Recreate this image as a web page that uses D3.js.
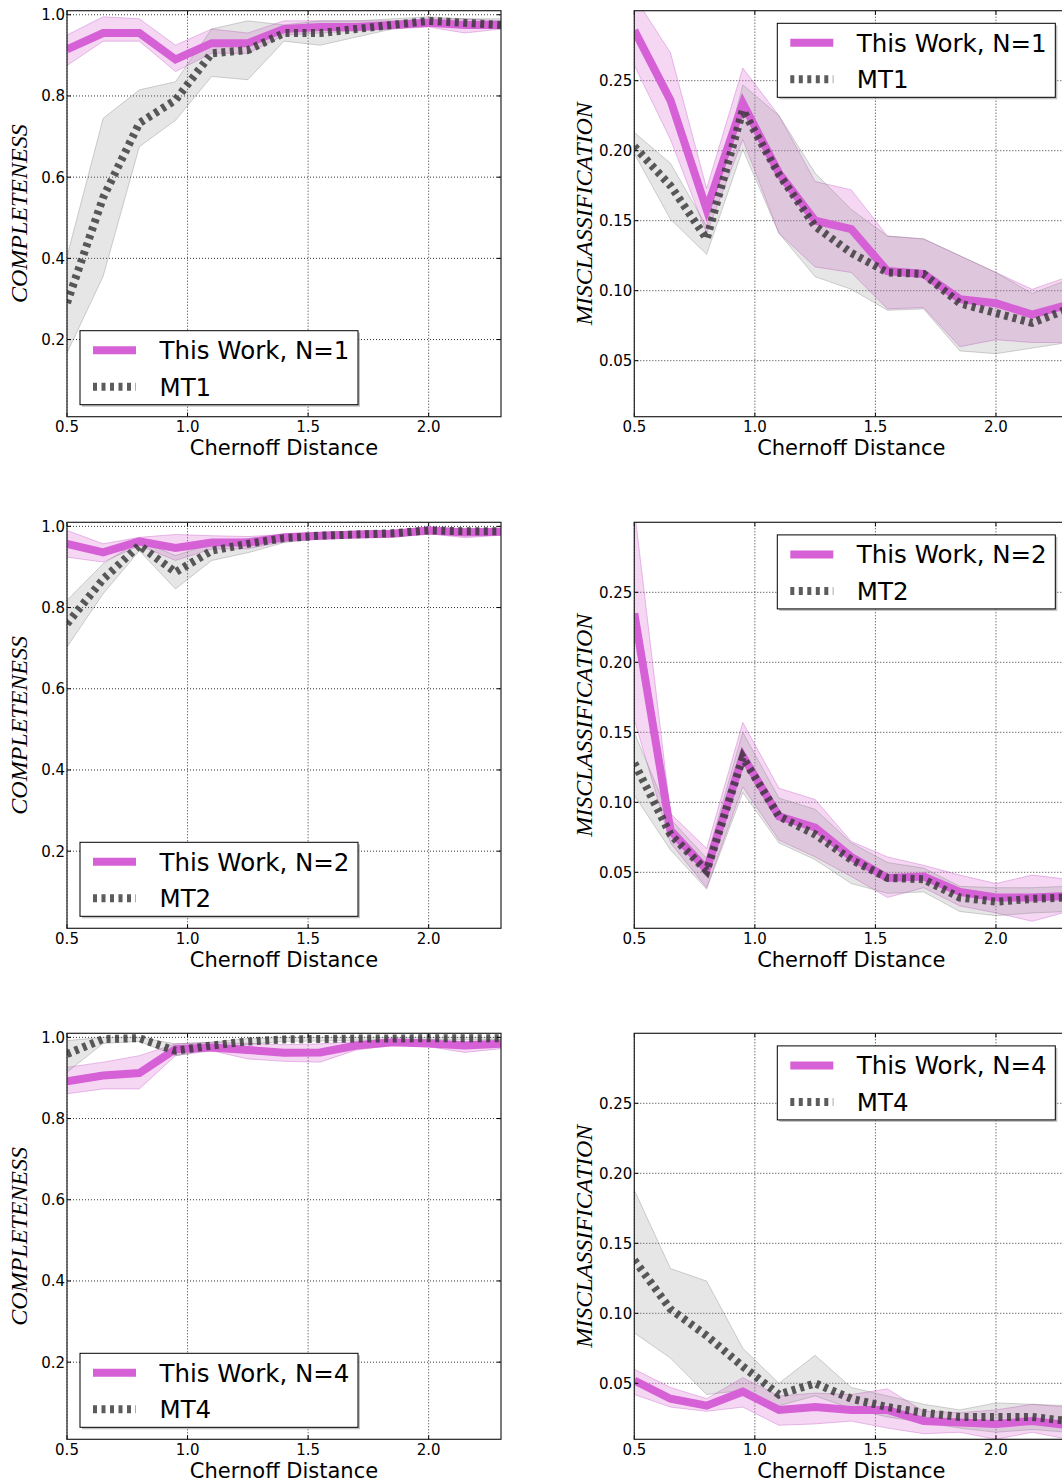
<!DOCTYPE html>
<meta charset="utf-8">
<style>
body { margin: 0; overflow: hidden; background: #fff; }
svg { font-family: "DejaVu Sans", sans-serif; }
.grid line { stroke: #000; stroke-width: 0.8; stroke-dasharray: 1,2; }
.tick-in line { stroke: #000; stroke-width: 1; }
.spine { fill: none; stroke: #222; stroke-width: 1.2; }
.ylab { font-family: "Liberation Serif", serif; font-style: italic; font-size: 24px; }
</style>
<body>
<script src="https://cdn.jsdelivr.net/npm/d3@7"></script>
<script>

// chernoff distance sample points
var xs = [0.5, 0.65, 0.8, 0.95, 1.1, 1.25, 1.4, 1.55, 1.7, 1.85, 2.0, 2.15, 2.3];

// completeness, N=1
var compTW1   = [0.915, 0.955, 0.955, 0.89, 0.93, 0.93, 0.965, 0.97, 0.97, 0.975, 0.98, 0.975, 0.975];
var compTW1Lo = [0.875, 0.935, 0.935, 0.86, 0.905, 0.905, 0.95, 0.955, 0.96, 0.965, 0.97, 0.955, 0.965];
var compTW1Hi = [0.95, 0.995, 0.99, 0.925, 0.965, 0.955, 0.985, 0.985, 0.985, 0.985, 0.99, 0.99, 0.985];
var compMT1   = [0.29, 0.55, 0.733, 0.79, 0.905, 0.913, 0.955, 0.955, 0.965, 0.975, 0.985, 0.98, 0.975];
var compMT1Lo = [0.167, 0.356, 0.675, 0.74, 0.848, 0.84, 0.935, 0.925, 0.945, 0.965, 0.975, 0.97, 0.965];
var compMT1Hi = [0.405, 0.745, 0.815, 0.835, 0.965, 0.985, 0.975, 0.985, 0.985, 0.99, 0.995, 0.99, 0.99];

// misclassification, N=1
var misTW1   = [0.286, 0.236, 0.158, 0.234, 0.184, 0.150, 0.144, 0.114, 0.112, 0.094, 0.091, 0.083, 0.09];
var misTW1Lo = [0.261, 0.208, 0.141, 0.208, 0.141, 0.117, 0.113, 0.087, 0.088, 0.06, 0.065, 0.063, 0.063];
var misTW1Hi = [0.31, 0.27, 0.173, 0.259, 0.225, 0.178, 0.172, 0.139, 0.137, 0.125, 0.113, 0.101, 0.11];
var misMT1   = [0.203, 0.175, 0.137, 0.229, 0.183, 0.146, 0.127, 0.113, 0.112, 0.091, 0.084, 0.077, 0.087];
var misMT1Lo = [0.198, 0.151, 0.126, 0.201, 0.141, 0.11, 0.101, 0.086, 0.087, 0.057, 0.055, 0.059, 0.063];
var misMT1Hi = [0.213, 0.191, 0.146, 0.247, 0.225, 0.184, 0.158, 0.139, 0.137, 0.125, 0.113, 0.098, 0.108];

// completeness, N=2
var compTW2   = [0.957, 0.936, 0.963, 0.947, 0.96, 0.96, 0.973, 0.977, 0.98, 0.982, 0.99, 0.985, 0.987];
var compTW2Lo = [0.924, 0.912, 0.953, 0.916, 0.944, 0.945, 0.962, 0.968, 0.975, 0.975, 0.982, 0.972, 0.978];
var compTW2Hi = [0.99, 0.957, 0.973, 0.98, 0.977, 0.975, 0.98, 0.985, 0.988, 0.99, 0.995, 0.995, 0.995];
var compMT2   = [0.76, 0.87, 0.953, 0.887, 0.94, 0.957, 0.971, 0.977, 0.98, 0.983, 0.99, 0.988, 0.988];
var compMT2Lo = [0.703, 0.834, 0.94, 0.846, 0.916, 0.935, 0.96, 0.97, 0.974, 0.977, 0.985, 0.98, 0.98];
var compMT2Hi = [0.818, 0.908, 0.965, 0.928, 0.957, 0.97, 0.98, 0.985, 0.987, 0.99, 0.997, 0.995, 0.995];

// misclassification, N=2
var misTW2   = [0.235, 0.08, 0.052, 0.133, 0.09, 0.082, 0.061, 0.046, 0.047, 0.036, 0.032, 0.032, 0.033];
var misTW2Lo = [0.159, 0.071, 0.039, 0.111, 0.073, 0.061, 0.047, 0.032, 0.039, 0.026, 0.021, 0.015, 0.022];
var misTW2Hi = [0.31, 0.092, 0.067, 0.157, 0.11, 0.102, 0.072, 0.061, 0.055, 0.048, 0.042, 0.048, 0.045];
var misMT2   = [0.128, 0.077, 0.051, 0.132, 0.09, 0.077, 0.059, 0.046, 0.045, 0.032, 0.029, 0.031, 0.032];
var misMT2Lo = [0.105, 0.066, 0.038, 0.107, 0.071, 0.059, 0.042, 0.035, 0.036, 0.022, 0.019, 0.021, 0.022];
var misMT2Hi = [0.15, 0.088, 0.06, 0.15, 0.103, 0.095, 0.071, 0.057, 0.053, 0.04, 0.039, 0.039, 0.04];

// completeness, N=4
var compTW4   = [0.892, 0.906, 0.912, 0.971, 0.975, 0.969, 0.962, 0.963, 0.98, 0.988, 0.985, 0.98, 0.984];
var compTW4Lo = [0.861, 0.873, 0.873, 0.955, 0.967, 0.947, 0.941, 0.939, 0.969, 0.98, 0.977, 0.963, 0.972];
var compTW4Hi = [0.926, 0.939, 0.955, 0.984, 0.988, 0.985, 0.982, 0.984, 0.99, 0.995, 0.995, 0.99, 0.995];
var compMT4   = [0.959, 0.996, 0.998, 0.967, 0.98, 0.99, 0.995, 0.996, 0.997, 0.997, 0.998, 0.998, 0.998];
var compMT4Lo = [0.914, 0.985, 0.99, 0.955, 0.971, 0.983, 0.99, 0.991, 0.993, 0.994, 0.995, 0.994, 0.995];
var compMT4Hi = [0.992, 1.0, 1.0, 0.984, 0.988, 0.997, 1.0, 1.0, 1.0, 1.0, 1.0, 1.0, 1.0];

// misclassification, N=4
var misTW4   = [0.052, 0.039, 0.034, 0.044, 0.031, 0.033, 0.031, 0.031, 0.023, 0.022, 0.021, 0.023, 0.02];
var misTW4Lo = [0.042, 0.033, 0.03, 0.033, 0.02, 0.021, 0.023, 0.018, 0.014, 0.015, 0.01, 0.015, 0.01];
var misTW4Hi = [0.06, 0.047, 0.039, 0.054, 0.041, 0.043, 0.042, 0.046, 0.03, 0.029, 0.031, 0.035, 0.033];
var misMT4   = [0.138, 0.103, 0.084, 0.062, 0.042, 0.05, 0.039, 0.033, 0.029, 0.026, 0.026, 0.026, 0.023];
var misMT4Lo = [0.086, 0.068, 0.042, 0.045, 0.034, 0.041, 0.032, 0.026, 0.022, 0.018, 0.015, 0.017, 0.015];
var misMT4Hi = [0.188, 0.132, 0.123, 0.075, 0.05, 0.07, 0.047, 0.041, 0.035, 0.031, 0.036, 0.035, 0.034];

var xTicks = [0.5, 1.0, 1.5, 2.0];
var compTicks = [0.2, 0.4, 0.6, 0.8, 1.0];
var misTicks = [0.05, 0.10, 0.15, 0.20, 0.25];
var ns = [1, 2, 4];

var width = 1062, height = 1484;
var pw = 434, ph = 406;
var lefts = [67, 634.3];
var tops = [10.7, 522.3, 1033.3];

var magenta = "#d660d6";

var svg = d3.select("body").append("svg")
    .attr("width", width)
    .attr("height", height);

function series(m, lo, hi) {
  return xs.map(function(x, i) { return {x: x, m: m[i], lo: lo[i], hi: hi[i]}; });
}

var panels = [
  {row: 0, col: 0, tw: series(compTW1, compTW1Lo, compTW1Hi), mt: series(compMT1, compMT1Lo, compMT1Hi)},
  {row: 0, col: 1, tw: series(misTW1, misTW1Lo, misTW1Hi), mt: series(misMT1, misMT1Lo, misMT1Hi)},
  {row: 1, col: 0, tw: series(compTW2, compTW2Lo, compTW2Hi), mt: series(compMT2, compMT2Lo, compMT2Hi)},
  {row: 1, col: 1, tw: series(misTW2, misTW2Lo, misTW2Hi), mt: series(misMT2, misMT2Lo, misMT2Hi)},
  {row: 2, col: 0, tw: series(compTW4, compTW4Lo, compTW4Hi), mt: series(compMT4, compMT4Lo, compMT4Hi)},
  {row: 2, col: 1, tw: series(misTW4, misTW4Lo, misTW4Hi), mt: series(misMT4, misMT4Lo, misMT4Hi)}
];

panels.forEach(function(p, k) {
  var comp = p.col === 0;
  var n = ns[p.row];

  var x = d3.scaleLinear().domain([0.5, 2.3]).range([0, pw]);
  var y = comp
    ? d3.scaleLinear().domain([0.01, 1.01]).range([ph, 0])
    : d3.scaleLinear().domain([0.01, 0.30]).range([ph, 0]);
  var yTicks = comp ? compTicks : misTicks;
  var yFmt = comp ? d3.format(".1f") : d3.format(".2f");

  var g = svg.append("g")
      .attr("transform", "translate(" + lefts[p.col] + "," + tops[p.row] + ")");

  g.append("clipPath").attr("id", "clip" + k)
    .append("rect").attr("width", pw).attr("height", ph);

  // grid
  var grid = g.append("g").attr("class", "grid");
  grid.selectAll(".gx").data(xTicks).enter().append("line")
      .attr("x1", x).attr("x2", x).attr("y1", 0).attr("y2", ph);
  grid.selectAll(".gy").data(yTicks).enter().append("line")
      .attr("x1", 0).attr("x2", pw).attr("y1", y).attr("y2", y);

  var plot = g.append("g").attr("clip-path", "url(#clip" + k + ")");

  var area = d3.area()
      .x(function(d) { return x(d.x); })
      .y0(function(d) { return y(d.lo); })
      .y1(function(d) { return y(d.hi); });
  var line = d3.line()
      .x(function(d) { return x(d.x); })
      .y(function(d) { return y(d.m); });

  plot.append("path").datum(p.tw)
      .attr("d", area)
      .attr("fill", "#da70d6").attr("fill-opacity", 0.28)
      .attr("stroke", "#c050c0").attr("stroke-opacity", 0.35).attr("stroke-width", 1);
  plot.append("path").datum(p.mt)
      .attr("d", area)
      .attr("fill", "#808080").attr("fill-opacity", 0.2)
      .attr("stroke", "#808080").attr("stroke-opacity", 0.35).attr("stroke-width", 1);

  plot.append("path").datum(p.tw)
      .attr("d", line)
      .attr("fill", "none")
      .attr("stroke", magenta).attr("stroke-width", 8)
      .attr("stroke-linejoin", "miter");
  plot.append("path").datum(p.mt)
      .attr("d", line)
      .attr("fill", "none")
      .attr("stroke", "#333").attr("stroke-opacity", 0.8)
      .attr("stroke-width", 8).attr("stroke-dasharray", "4,4.5");

  // inward ticks
  var tk = g.append("g").attr("class", "tick-in");
  xTicks.forEach(function(t) {
    tk.append("line").attr("x1", x(t)).attr("x2", x(t)).attr("y1", ph).attr("y2", ph - 4);
    tk.append("line").attr("x1", x(t)).attr("x2", x(t)).attr("y1", 0).attr("y2", 4);
  });
  yTicks.forEach(function(t) {
    tk.append("line").attr("x1", 0).attr("x2", 4).attr("y1", y(t)).attr("y2", y(t));
    tk.append("line").attr("x1", pw).attr("x2", pw - 4).attr("y1", y(t)).attr("y2", y(t));
  });

  g.append("rect").attr("class", "spine").attr("width", pw).attr("height", ph);

  // tick labels
  g.selectAll(".xl").data(xTicks).enter().append("text")
      .attr("x", x).attr("y", ph + 15.5)
      .attr("text-anchor", "middle")
      .attr("font-size", "15px")
      .text(d3.format(".1f"));
  g.selectAll(".yl").data(yTicks).enter().append("text")
      .attr("x", -2).attr("y", y).attr("dy", "0.36em")
      .attr("text-anchor", "end")
      .attr("font-size", "15px")
      .text(yFmt);

  g.append("text")
      .attr("x", pw / 2).attr("y", ph + 38.5)
      .attr("text-anchor", "middle")
      .attr("font-size", "21px")
      .text("Chernoff Distance");

  g.append("text")
      .attr("class", "ylab")
      .attr("transform", "translate(" + (comp ? -40.5 : -42.5) + "," + (ph / 2) + ") rotate(-90)")
      .attr("text-anchor", "middle")
      .text(comp ? "COMPLETENESS" : "MISCLASSIFICATION");

  // legend
  var lw = 278, lh = 74;
  var lx = comp ? 13 : pw - 13 - lw;
  var ly = comp ? ph - 12 - lh : 12.6;
  var leg = g.append("g").attr("transform", "translate(" + lx + "," + ly + ")");
  leg.append("rect").attr("x", 2).attr("y", 2).attr("width", lw).attr("height", lh)
      .attr("fill", "#999").attr("fill-opacity", 0.6);
  leg.append("rect").attr("width", lw).attr("height", lh)
      .attr("fill", "#fff").attr("stroke", "#000").attr("stroke-width", 1);
  leg.append("line").attr("x1", 13).attr("x2", 56).attr("y1", 19.5).attr("y2", 19.5)
      .attr("stroke", magenta).attr("stroke-width", 8);
  leg.append("line").attr("x1", 13).attr("x2", 56).attr("y1", 56).attr("y2", 56)
      .attr("stroke", "#333").attr("stroke-opacity", 0.8)
      .attr("stroke-width", 8).attr("stroke-dasharray", "4,4.5");
  leg.append("text").attr("x", 79.5).attr("y", 28.5)
      .attr("font-size", "24.5px").text("This Work, N=" + n);
  leg.append("text").attr("x", 79.5).attr("y", 65)
      .attr("font-size", "24.5px").text("MT" + n);
});

</script>
</body>
